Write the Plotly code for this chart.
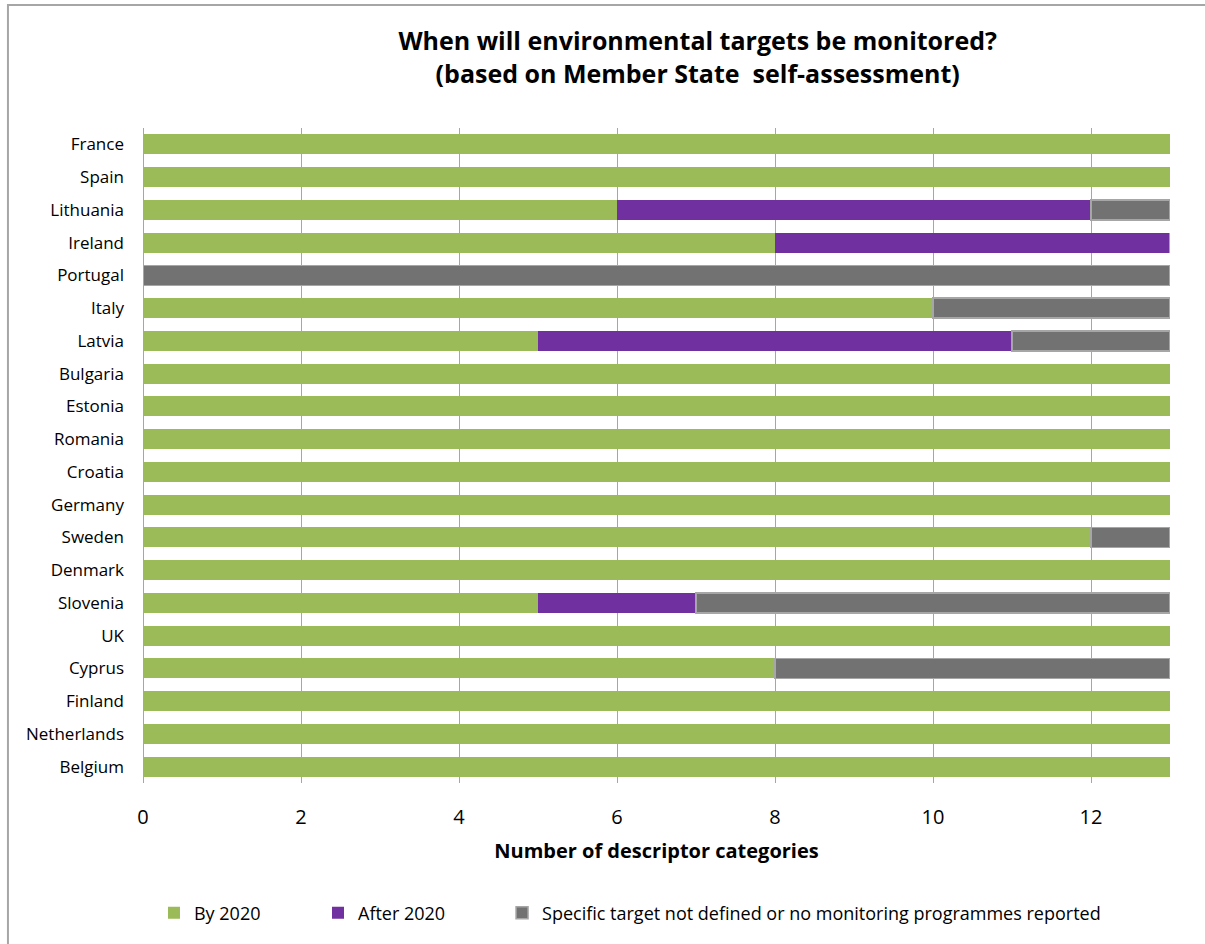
import plotly.graph_objects as go

countries = ["France", "Spain", "Lithuania", "Ireland", "Portugal", "Italy", "Latvia",
             "Bulgaria", "Estonia", "Romania", "Croatia", "Germany", "Sweden", "Denmark",
             "Slovenia", "UK", "Cyprus", "Finland", "Netherlands", "Belgium"]
by_2020 = [13, 13, 6, 8, 0, 10, 5, 13, 13, 13, 13, 13, 12, 13, 5, 13, 8, 13, 13, 13]
after_2020 = [0, 0, 6, 5, 0, 0, 6, 0, 0, 0, 0, 0, 0, 0, 2, 0, 0, 0, 0, 0]
not_defined = [0, 0, 1, 0, 13, 3, 2, 0, 0, 0, 0, 0, 1, 0, 6, 0, 5, 0, 0, 0]
x_ticks = [0, 2, 4, 6, 8, 10, 12]

FONT = "Open Sans, Liberation Sans, sans-serif"

fig = go.Figure()
fig.add_trace(go.Bar(y=countries, x=by_2020, orientation="h", name="By 2020",
                     marker=dict(color="#9BBB59", line=dict(width=0)), legend="legend",
                     showlegend=True))
fig.add_trace(go.Bar(y=countries, x=after_2020, orientation="h", name="After 2020",
                     marker=dict(color="#7030A0", line=dict(width=0)), legend="legend2",
                     showlegend=True))
fig.add_trace(go.Bar(y=countries, x=not_defined, orientation="h",
                     name="Specific target not defined or no monitoring programmes reported",
                     marker=dict(color="#727272", line=dict(color="#A6A6A6", width=1.5)),
                     legend="legend3", showlegend=True))

# outer chart border
fig.add_shape(type="rect", xref="paper", yref="paper",
              x0=-0.1315, x1=1.05, y0=-0.3, y1=1.1878,
              line=dict(color="#A6A6A6", width=2), fillcolor="rgba(0,0,0,0)", layer="below")

legend_style = dict(orientation="h", xanchor="left", y=-0.1985, yanchor="middle",
                    font=dict(size=18, family=FONT, color="black"), itemwidth=30,
                    bgcolor="rgba(0,0,0,0)", visible=True)

fig.update_layout(
    width=1205, height=944,
    showlegend=True,
    barmode="stack", bargap=0.39,
    paper_bgcolor="white", plot_bgcolor="white",
    margin=dict(l=143, r=35, t=128, b=161),
    font=dict(family=FONT, color="black"),
    title=dict(text="<b>When will environmental targets be monitored?<br>(based on Member State  self-assessment)</b>",
               x=0.579, xanchor="center", y=0.947, yanchor="top",
               font=dict(size=25, family=FONT, color="black")),
    xaxis=dict(range=[0, 13], tickvals=x_ticks, showgrid=True, gridcolor="#A6A6A6", gridwidth=1,
               zeroline=True, zerolinecolor="#A6A6A6", zerolinewidth=1, showline=False,
               tickfont=dict(size=20), ticks="", ticklabelstandoff=20,
               title=dict(text="<b>Number of descriptor categories</b>", font=dict(size=20), standoff=14)),
    yaxis=dict(categoryorder="array", categoryarray=countries[::-1], tickfont=dict(size=17),
               ticks="", showgrid=False, ticklabelstandoff=18),
    legend=dict(x=0.0107, **legend_style),
    legend2=dict(x=0.1704, **legend_style),
    legend3=dict(x=0.3496, **legend_style),
)

fig.write_html("out.html")
